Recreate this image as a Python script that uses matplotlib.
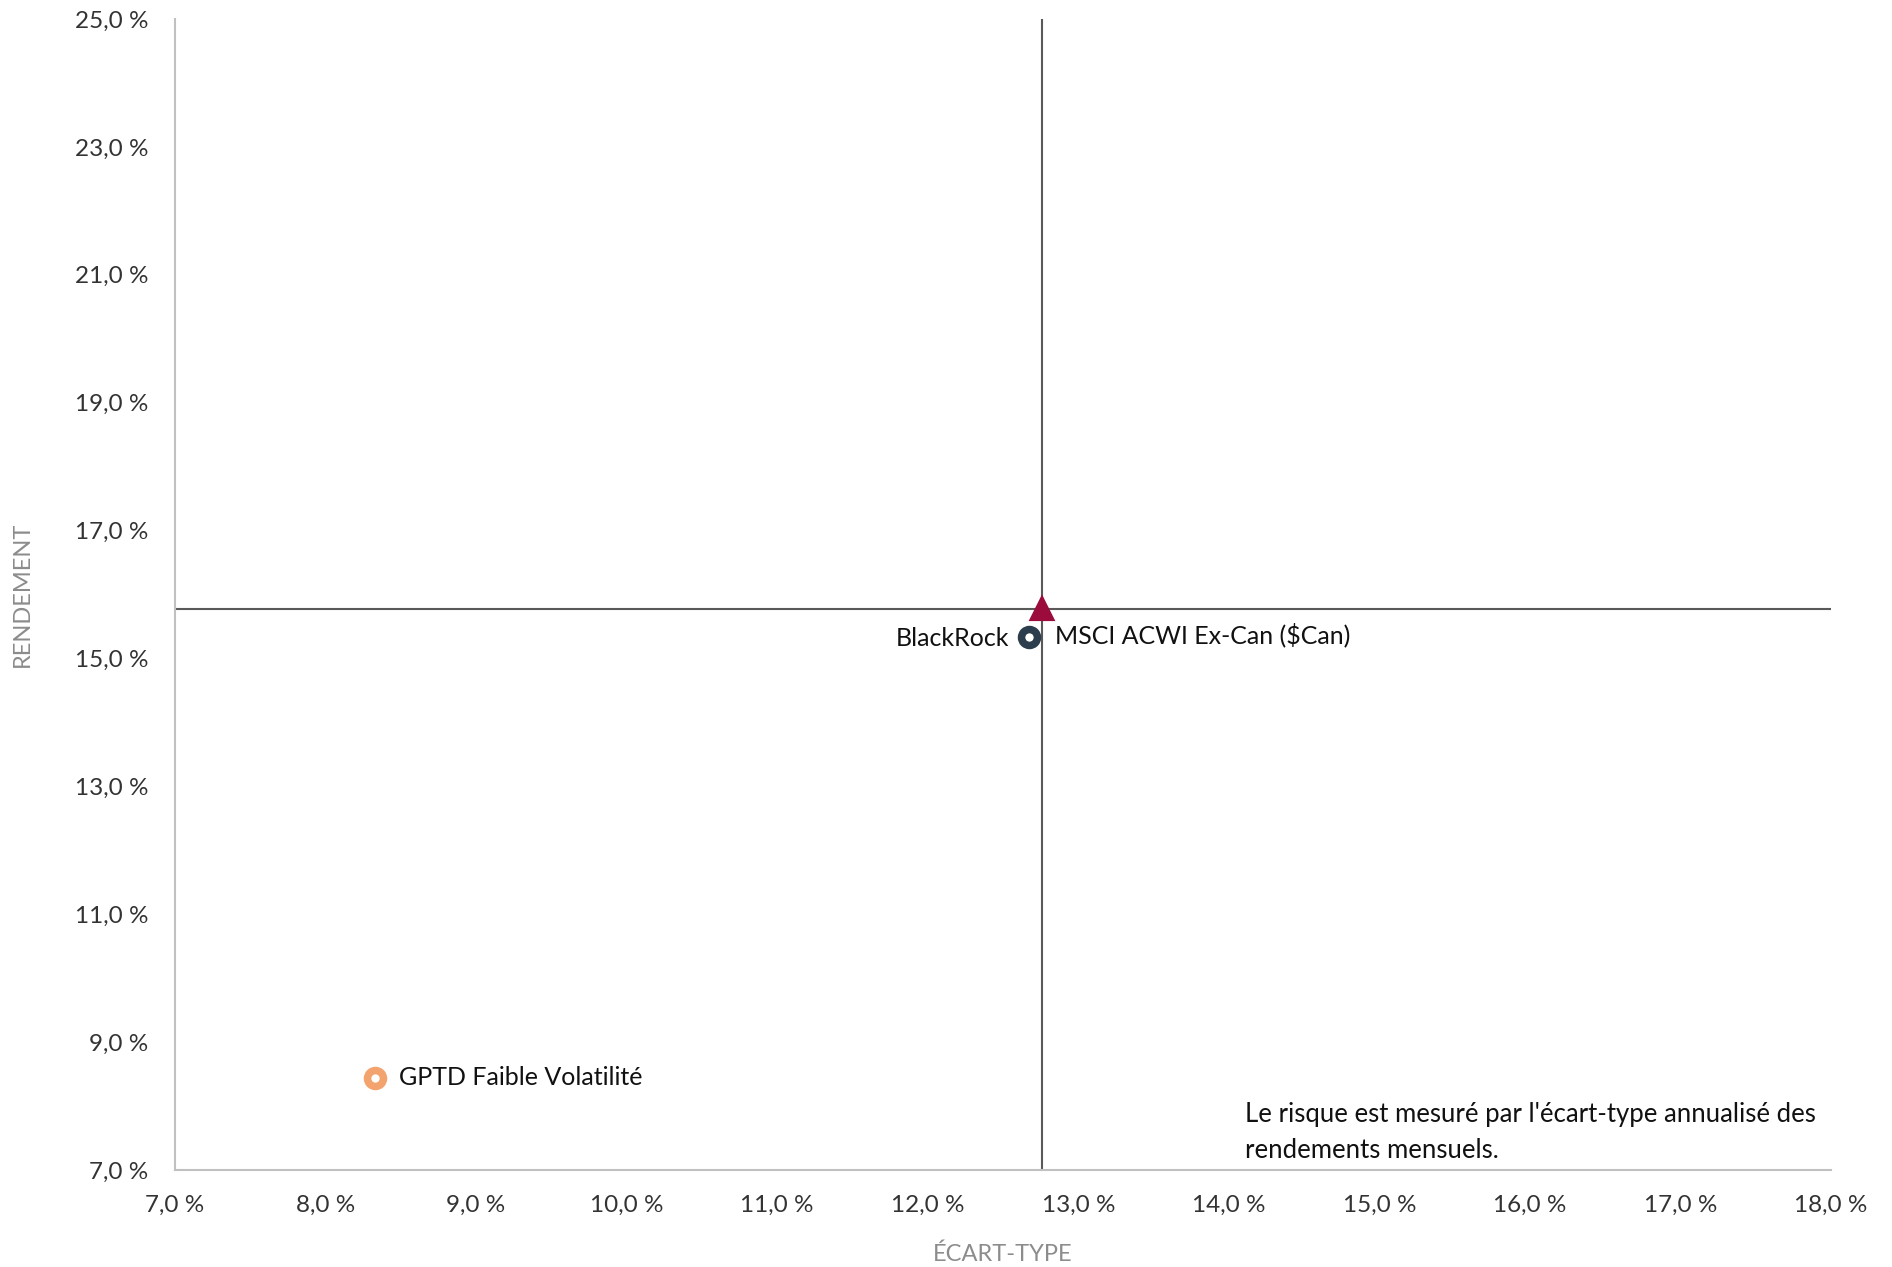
import matplotlib
matplotlib.use("Agg")
import matplotlib.pyplot as plt
from matplotlib.ticker import FuncFormatter

# risque (écart-type, %) et rendement (%)
names = ["BlackRock", "MSCI ACWI Ex-Can ($Can)", "GPTD Faible Volatilité"]
risk = [12.67, 12.76, 8.33]
ret = [15.34, 15.78, 8.44]

x_ticks = list(range(7, 19))
y_ticks = list(range(7, 26, 2))

plt.rcParams['font.family'] = ['Lato', 'DejaVu Sans']

fig = plt.figure(figsize=(18.92, 12.67), dpi=100)
ax = fig.add_axes([0.0925, 0.0766, 0.8753, 0.9084])

# lignes de référence sur l'indice
ax.axvline(risk[1], color='#595959', lw=1.5, zorder=1)
ax.axhline(ret[1], color='#595959', lw=1.5, zorder=1)

ax.plot(risk[0], ret[0], 'o', ms=11.5, mfc='white', mec='#2c3e4d', mew=5.4, zorder=3)
ax.plot(risk[1], ret[1], '^', ms=15, color='#9b0c3c', mec='#9b0c3c', mew=3,
        zorder=3, solid_joinstyle='round')
ax.plot(risk[2], ret[2], 'o', ms=11.5, mfc='white', mec='#f2a36e', mew=5.4, zorder=3)

lab = dict(fontsize=18, color='#111111', va='center', textcoords='offset points')
ax.annotate(names[0], (risk[0], ret[0]), xytext=(-14, -1), ha='right', **lab)
ax.annotate(names[1], (risk[1], ret[1]), xytext=(9, -19), ha='left', **lab)
ax.annotate(names[2], (risk[2], ret[2]), xytext=(17, 0), ha='left', **lab)

ax.text(0.646, 0.006, "Le risque est mesuré par l'écart-type annualisé des\nrendements mensuels.",
        transform=ax.transAxes, fontsize=18.5, color='#111111', ha='left', va='bottom',
        linespacing=1.55)

ax.set_xlim(7, 18)
ax.set_ylim(7, 25)
ax.set_xticks(x_ticks)
ax.set_yticks(y_ticks)
fmt = FuncFormatter(lambda v, p: f"{v:.1f}".replace('.', ',') + " %")
ax.xaxis.set_major_formatter(fmt)
ax.yaxis.set_major_formatter(fmt)
ax.tick_params(axis='both', length=0, labelsize=17.5, labelcolor='#333333')
ax.tick_params(axis='x', pad=18)
ax.tick_params(axis='y', pad=19)

for s in ['top', 'right']:
    ax.spines[s].set_visible(False)
for s in ['left', 'bottom']:
    ax.spines[s].set_color('#c0c0c0')
    ax.spines[s].set_linewidth(1.5)

ax.set_xlabel("ÉCART-TYPE", fontsize=17, color='#8c8c8c', labelpad=20)
ax.set_ylabel("RENDEMENT", fontsize=17, color='#8c8c8c')
ax.yaxis.set_label_coords(-0.086, 0.5)

fig.savefig("out.png", dpi=100)
